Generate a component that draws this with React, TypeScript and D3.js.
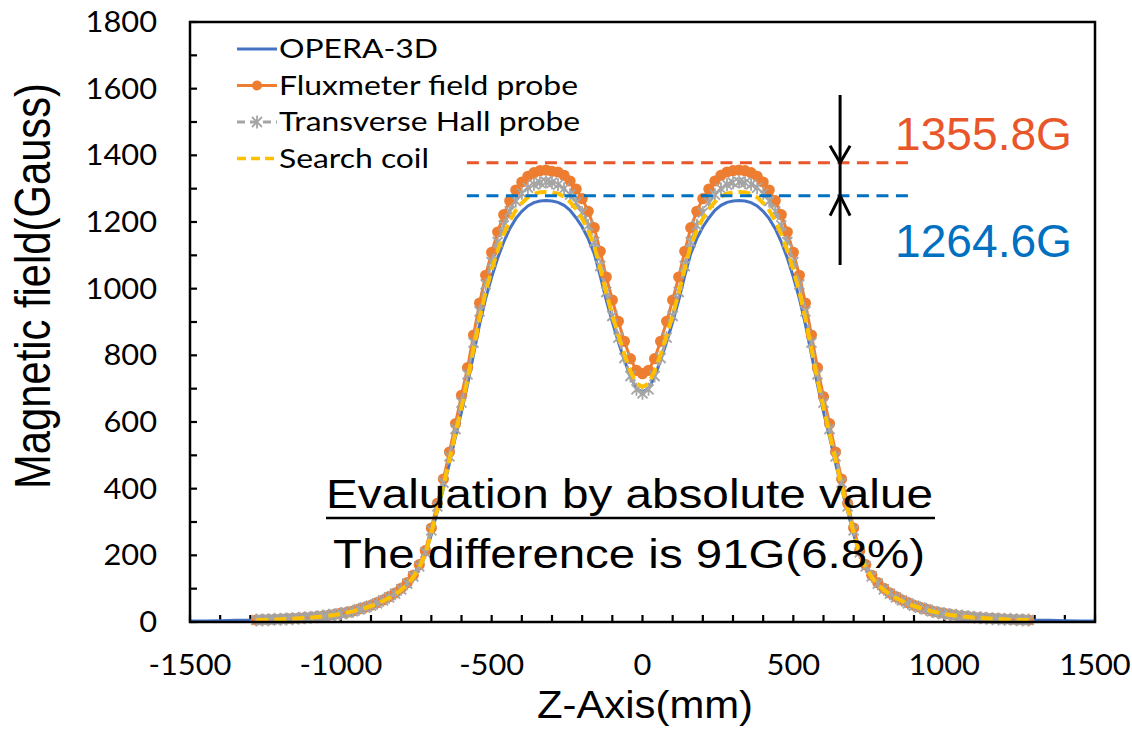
import React from 'react';
import * as d3 from 'd3';

// ---------- data ----------
const zMeasured = [
  -1280, -1260, -1240, -1220, -1200, -1180, -1160, -1140, -1120, -1100, -1080, -1060, -1040, -1020, -1000,
  -980, -960, -940, -920, -900, -880, -860, -840, -820, -800, -780, -760, -740, -720, -700, -680, -660, -640,
  -620, -600, -580, -560, -540, -520, -500, -480, -460, -440, -420, -400, -380, -360, -340, -320, -300, -280,
  -260, -240, -220, -200, -180, -160, -140, -120, -100, -80, -60, -40, -20, 0, 20, 40, 60, 80, 100, 120, 140,
  160, 180, 200, 220, 240, 260, 280, 300, 320, 340, 360, 380, 400, 420, 440, 460, 480, 500, 520, 540, 560, 580,
  600, 620, 640, 660, 680, 700, 720, 740, 760, 780, 800, 820, 840, 860, 880, 900, 920, 940, 960, 980, 1000,
  1020, 1040, 1060, 1080, 1100, 1120, 1140, 1160, 1180, 1200, 1220, 1240, 1260, 1280,
];

const operaZ = [-1500, -1450, -1400, -1350, -1300, ...zMeasured, 1300, 1350, 1400, 1450, 1500];

const operaField = [
  3, 3, 4, 5, 5,
  6, 6, 7, 7, 8, 9, 10, 11, 12, 13, 15, 17, 19, 21, 24, 27, 31, 36, 41, 47, 54, 62, 71, 81, 94, 110, 131, 160,
  200, 263, 332, 400, 476, 555, 630, 712, 803, 893, 970, 1035, 1092, 1140, 1180, 1210, 1232, 1248, 1258, 1263,
  1264.6, 1263, 1259, 1250, 1235, 1212, 1185, 1150, 1105, 1038, 965, 900, 840, 785, 735, 700,
  690,
  700, 735, 785, 840, 900, 965, 1038, 1105, 1150, 1185, 1212, 1235, 1250, 1259, 1263, 1264.6, 1263, 1258, 1248,
  1232, 1210, 1180, 1140, 1092, 1035, 970, 893, 803, 712, 630, 555, 476, 400, 332, 263, 200, 160, 131, 110, 94,
  81, 71, 62, 54, 47, 41, 36, 31, 27, 24, 21, 19, 17, 15, 13, 12, 11, 10, 9, 8, 7, 7, 6, 6,
  5, 5, 4, 3, 3,
];

const fluxmeterField = [
  6, 7, 7, 8, 9, 10, 11, 12, 13, 14, 16, 18, 20, 23, 27, 29, 33, 39, 44, 50, 58, 66, 76, 87, 101, 118, 140, 172,
  214, 282, 356, 429, 510, 595, 680, 763, 861, 957, 1040, 1109, 1170, 1222, 1264, 1296, 1320, 1337, 1348, 1354,
  1355.8, 1352, 1350, 1340, 1323, 1299, 1270, 1232, 1183, 1112, 1035, 966, 902, 842, 790, 755,
  745,
  755, 790, 842, 902, 966, 1035, 1112, 1183, 1232, 1270, 1299, 1323, 1340, 1350, 1354, 1355.8, 1354, 1348, 1337,
  1320, 1296, 1264, 1222, 1170, 1109, 1040, 957, 861, 763, 676, 595, 510, 429, 356, 282, 214, 172, 140, 118, 101,
  87, 76, 66, 58, 50, 44, 39, 33, 29, 26, 23, 20, 18, 16, 14, 13, 12, 11, 10, 9, 8, 7, 7, 6,
];

const hallField = [
  6, 6, 7, 8, 8, 9, 10, 11, 13, 14, 16, 18, 20, 22, 25, 28, 32, 38, 43, 49, 56, 65, 74, 85, 98, 115, 137, 167,
  209, 275, 347, 418, 497, 579, 658, 743, 838, 932, 1013, 1080, 1140, 1190, 1232, 1263, 1286, 1303, 1313, 1318,
  1320, 1318, 1312, 1300, 1282, 1258, 1228, 1190, 1140, 1068, 990, 918, 853, 792, 738, 698,
  686,
  698, 738, 792, 853, 918, 990, 1068, 1140, 1190, 1228, 1258, 1282, 1300, 1312, 1318, 1320, 1318, 1313, 1303,
  1286, 1263, 1232, 1190, 1140, 1080, 1013, 932, 838, 743, 658, 579, 497, 418, 347, 275, 209, 167, 137, 115, 98,
  85, 74, 65, 56, 49, 43, 38, 32, 28, 25, 22, 20, 18, 16, 14, 13, 11, 10, 9, 8, 8, 7, 6, 6,
];

const searchCoilField = [
  6, 6, 7, 7, 8, 9, 10, 11, 12, 13, 15, 17, 19, 21, 24, 28, 32, 37, 42, 48, 55, 63, 72, 83, 96, 112, 134, 163,
  204, 268, 339, 408, 486, 566, 643, 727, 819, 911, 990, 1056, 1114, 1163, 1204, 1235, 1257, 1274, 1284, 1289,
  1290, 1289, 1285, 1276, 1260, 1238, 1210, 1174, 1128, 1060, 986, 920, 860, 803, 752, 716,
  705,
  716, 752, 803, 860, 920, 986, 1060, 1128, 1174, 1210, 1238, 1260, 1276, 1285, 1289, 1290, 1289, 1284, 1274,
  1257, 1235, 1204, 1163, 1114, 1056, 990, 911, 819, 727, 643, 566, 486, 408, 339, 268, 204, 163, 134, 112, 96,
  83, 72, 63, 55, 48, 42, 37, 32, 28, 24, 21, 19, 17, 15, 13, 12, 11, 10, 9, 8, 7, 7, 6, 6,
];

const xTicks = [-1500, -1000, -500, 0, 500, 1000, 1500];
const yTicks = [0, 200, 400, 600, 800, 1000, 1200, 1400, 1600, 1800];
const seriesNames = ['OPERA-3D', 'Fluxmeter field probe', 'Transverse Hall probe', 'Search coil'];

// annotation values (data units)
const measuredPeak = 1355.8;
const simulatedPeak = 1264.6;
const refLineOrange = 1378;
const refLineBlue = 1279;
const refLineZ = [-582, 887];
const arrowZ = 655;
const arrowRange = [1071, 1581];

const W = 1132;
const H = 730;

const C_BLUE = '#4472C4';
const C_ORANGE = '#ED7D31';
const C_GRAY = '#A5A5A5';
const C_YELLOW = '#FFC000';
const C_RED = '#E8562A';
const C_DBLUE = '#0070C0';

const starPath = 'M-5,-5L5,5M-5,5L5,-5M0,-6.5L0,6.5';
const TICK_FONT = "Lato, 'Open Sans', sans-serif";
const ARIAL = "'Liberation Sans', Arial, sans-serif";

export default function App() {
  const x = d3.scaleLinear().domain([-1500, 1500]).range([190, 1095]);
  const y = d3.scaleLinear().domain([0, 1800]).range([622, 22]);
  const mkLine = (zs: number[]) =>
    d3.line<number>().x((_, i) => x(zs[i])).y((d) => y(d));

  const operaPath = mkLine(operaZ)(operaField) || '';
  const fluxPath = mkLine(zMeasured)(fluxmeterField) || '';
  const hallPath = mkLine(zMeasured)(hallField) || '';
  const coilPath = mkLine(zMeasured)(searchCoilField) || '';

  const minorX = d3.range(-1500, 1501, 100);
  const minorY = d3.range(0, 1801, 100);

  const legendX0 = 237;
  const legendX1 = 277;
  const legendBase = [58, 94.5, 131, 167.5];

  const ax = x(arrowZ);
  const yO = y(refLineOrange);
  const yB = y(refLineBlue);

  return (
    <svg
      width={W}
      height={H}
      style={{ position: 'absolute', left: 0, top: 0, background: '#fff' }}
      xmlns="http://www.w3.org/2000/svg"
    >
      <rect x={0} y={0} width={W} height={H} fill="#fff" />

      {/* ticks */}
      {minorX.map((t) => (
        <line key={'tx' + t} x1={x(t)} x2={x(t)} y1={622} y2={615} stroke="#000" strokeWidth={2.2} />
      ))}
      {minorY.map((t) => (
        <line key={'ty' + t} x1={190} x2={197} y1={y(t)} y2={y(t)} stroke="#000" strokeWidth={2.2} />
      ))}

      {/* series */}
      <path d={operaPath} fill="none" stroke={C_BLUE} strokeWidth={3} />
      <path d={fluxPath} fill="none" stroke={C_ORANGE} strokeWidth={3} />
      {zMeasured.map((z, i) => (
        <circle key={'c' + i} cx={x(z)} cy={y(fluxmeterField[i])} r={5.6} fill={C_ORANGE} />
      ))}
      <path d={hallPath} fill="none" stroke={C_GRAY} strokeWidth={3} strokeDasharray="8 5" />
      {zMeasured.map((z, i) => (
        <path
          key={'s' + i}
          d={starPath}
          transform={`translate(${x(z)},${y(hallField[i])})`}
          fill="none"
          stroke={C_GRAY}
          strokeWidth={1.8}
        />
      ))}
      <path d={coilPath} fill="none" stroke={C_YELLOW} strokeWidth={4} strokeDasharray="12 6" />

      {/* frame */}
      <rect x={190} y={22} width={905} height={600} fill="none" stroke="#000" strokeWidth={2.5} />

      {/* tick labels */}
      {xTicks.map((t) => (
        <g key={'lx' + t} transform={`translate(${x(t)},675) scale(1.1,1)`}>
          <text x={0} y={0} textAnchor="middle" fontFamily={TICK_FONT} fontSize={28} fill="#000">
            {t}
          </text>
        </g>
      ))}
      {yTicks.map((t) => (
        <g key={'ly' + t} transform={`translate(157,${y(t) + 10}) scale(1.1,1)`}>
          <text x={0} y={0} textAnchor="end" fontFamily={TICK_FONT} fontSize={28} fill="#000">
            {t}
          </text>
        </g>
      ))}

      {/* axis titles */}
      <text
        x={537}
        y={718}
        fontFamily={ARIAL}
        fontSize={38}
        textLength={216}
        lengthAdjust="spacingAndGlyphs"
        fill="#000"
      >
        Z-Axis(mm)
      </text>
      <g transform="translate(50,286) scale(1.2,1) rotate(-90)">
        <text
          x={0}
          y={0}
          textAnchor="middle"
          fontFamily={ARIAL}
          fontSize={41}
          textLength={406}
          lengthAdjust="spacingAndGlyphs"
          fill="#000"
        >
          Magnetic field(Gauss)
        </text>
      </g>

      {/* legend */}
      <line x1={legendX0} x2={legendX1} y1={legendBase[0] - 9} y2={legendBase[0] - 9} stroke={C_BLUE} strokeWidth={3} />
      <line x1={legendX0} x2={legendX1} y1={legendBase[1] - 9} y2={legendBase[1] - 9} stroke={C_ORANGE} strokeWidth={3} />
      <circle cx={(legendX0 + legendX1) / 2} cy={legendBase[1] - 9} r={5} fill={C_ORANGE} />
      <line
        x1={legendX0}
        x2={legendX1}
        y1={legendBase[2] - 9}
        y2={legendBase[2] - 9}
        stroke={C_GRAY}
        strokeWidth={3}
        strokeDasharray="8 5"
      />
      <path
        d={starPath}
        transform={`translate(${(legendX0 + legendX1) / 2},${legendBase[2] - 9})`}
        fill="none"
        stroke={C_GRAY}
        strokeWidth={1.8}
      />
      <line
        x1={legendX0}
        x2={legendX1}
        y1={legendBase[3] - 9}
        y2={legendBase[3] - 9}
        stroke={C_YELLOW}
        strokeWidth={3.5}
        strokeDasharray="9 5"
      />
      {seriesNames.map((n, i) => (
        <g key={n} transform={`translate(279,${legendBase[i]}) scale(1.18,1)`}>
          <text x={0} y={0} fontFamily={TICK_FONT} fontSize={27} fill="#000">
            {n}
          </text>
        </g>
      ))}

      {/* reference dashed lines */}
      <line
        x1={x(refLineZ[0])}
        x2={x(refLineZ[1])}
        y1={yO}
        y2={yO}
        stroke={C_RED}
        strokeWidth={3}
        strokeDasharray="12 7.5"
      />
      <line
        x1={x(refLineZ[0])}
        x2={x(refLineZ[1])}
        y1={yB}
        y2={yB}
        stroke={C_DBLUE}
        strokeWidth={3}
        strokeDasharray="12 7.5"
      />

      {/* arrow */}
      <line x1={ax} x2={ax} y1={y(arrowRange[1])} y2={y(arrowRange[0])} stroke="#000" strokeWidth={3} />
      <path
        d={`M${ax - 10},${yO - 17}L${ax},${yO}L${ax + 10},${yO - 17}`}
        fill="none"
        stroke="#000"
        strokeWidth={3}
      />
      <path
        d={`M${ax - 10},${yB + 20}L${ax},${yB}L${ax + 10},${yB + 20}`}
        fill="none"
        stroke="#000"
        strokeWidth={3}
      />

      {/* annotation values */}
      <text
        x={895}
        y={150}
        fontFamily={ARIAL}
        fontSize={47}
        textLength={177}
        lengthAdjust="spacingAndGlyphs"
        fill={C_RED}
      >
        {measuredPeak.toFixed(1)}G
      </text>
      <text
        x={895}
        y={257}
        fontFamily={ARIAL}
        fontSize={47}
        textLength={177}
        lengthAdjust="spacingAndGlyphs"
        fill={C_DBLUE}
      >
        {simulatedPeak.toFixed(1)}G
      </text>

      {/* evaluation text */}
      <text
        x={326}
        y={508}
        fontFamily={ARIAL}
        fontSize={40}
        textLength={607}
        lengthAdjust="spacingAndGlyphs"
        fill="#000"
      >
        Evaluation by absolute value
      </text>
      <line x1={326} x2={935} y1={518} y2={518} stroke="#000" strokeWidth={2.6} />
      <text
        x={333}
        y={568}
        fontFamily={ARIAL}
        fontSize={40}
        textLength={592}
        lengthAdjust="spacingAndGlyphs"
        fill="#000"
      >
        The difference is 91G(6.8%)
      </text>
    </svg>
  );
}
